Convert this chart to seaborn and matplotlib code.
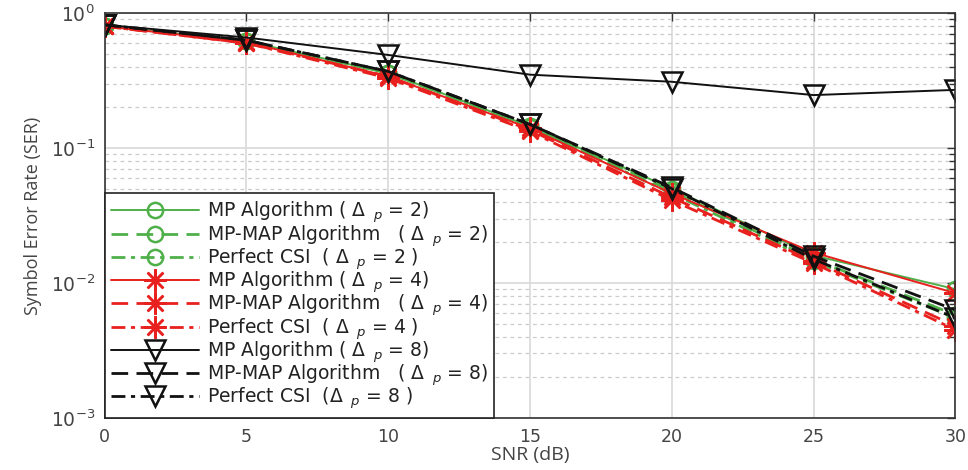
import numpy as np
import pandas as pd
import matplotlib
matplotlib.use("Agg")
import matplotlib.pyplot as plt
import seaborn as sns

snr = [0, 5, 10, 15, 20, 25, 30]
mp2 = [0.80, 0.62, 0.36, 0.145, 0.050, 0.0160, 0.0090]
mpmap2 = [0.80, 0.62, 0.36, 0.145, 0.048, 0.0150, 0.0058]
csi2 = [0.80, 0.62, 0.36, 0.143, 0.046, 0.0145, 0.0055]
mp4 = [0.80, 0.61, 0.34, 0.140, 0.046, 0.0168, 0.0084]
mpmap4 = [0.80, 0.60, 0.34, 0.136, 0.043, 0.0145, 0.0048]
csi4 = [0.80, 0.60, 0.33, 0.133, 0.041, 0.0140, 0.0045]
mp8 = [0.82, 0.66, 0.49, 0.35, 0.31, 0.247, 0.27]
mpmap8 = [0.82, 0.63, 0.37, 0.150, 0.051, 0.0158, 0.0063]
csi8 = [0.82, 0.63, 0.37, 0.150, 0.050, 0.0150, 0.0055]

labels = [
    r"MP Algorithm ( $\Delta_{\ \ p}$ = 2)",
    r"MP-MAP Algorithm   ( $\Delta_{\ \ p}$ = 2)",
    r"Perfect CSI  ( $\Delta_{\ \ p}$ = 2 )",
    r"MP Algorithm ( $\Delta_{\ \ p}$ = 4)",
    r"MP-MAP Algorithm   ( $\Delta_{\ \ p}$ = 4)",
    r"Perfect CSI  ( $\Delta_{\ \ p}$ = 4 )",
    r"MP Algorithm ( $\Delta_{\ \ p}$ = 8)",
    r"MP-MAP Algorithm   ( $\Delta_{\ \ p}$ = 8)",
    r"Perfect CSI  ($\Delta_{\ \ p}$ = 8 )",
]
series = [mp2, mpmap2, csi2, mp4, mpmap4, csi4, mp8, mpmap8, csi8]

green = "#4fb04a"
red = "#e8201e"
black = "#111111"
colors = [green] * 3 + [red] * 3 + [black] * 3
styles = ["-", (0, (6, 3)), (0, (5, 2, 1.5, 2))] * 3
markers = ["o"] * 3 + [(8, 2, 0)] * 3 + ["v"] * 3
msizes = [11] * 3 + [16] * 3 + [15] * 3
lwidths = [1.4, 2.0, 2.0, 1.4, 2.0, 2.0, 1.4, 2.0, 2.0]

sns.set_theme(style="white")
plt.rcParams["font.family"] = ["DejaVu Sans"]
plt.rcParams["mathtext.fontset"] = "dejavusans"

fig = plt.figure(figsize=(9.68, 4.70), dpi=100)
ax = fig.add_axes([0.108, 0.111, 0.879, 0.861])

handles = []
for y, lab, c, ls, m, ms, lw in zip(series, labels, colors, styles, markers, msizes, lwidths):
    df = pd.DataFrame({"SNR": snr, "SER": y})
    sns.lineplot(data=df, x="SNR", y="SER", ax=ax, color=c, linestyle=ls,
                 marker=m, markersize=ms, markerfacecolor="none",
                 markeredgecolor=c, markeredgewidth=1.8, linewidth=lw,
                 label=lab, legend=False)
    handles.append(ax.lines[-1])

ax.set_yscale("log")
ax.set_xlim(0, 30)
ax.set_ylim(1e-3, 1)
ax.set_xticks([0, 5, 10, 15, 20, 25, 30])

ax.grid(True, which="major", axis="both", color="#d9d9d9", linewidth=1.2, linestyle="-")
ax.grid(True, which="minor", axis="y", color="#cccccc", linewidth=0.9, linestyle=(0, (3, 3)))
ax.set_axisbelow(True)

for s in ax.spines.values():
    s.set_color("#333333")
    s.set_linewidth(1.2)
ax.tick_params(which="both", direction="in", top=True, right=True, colors="#333333",
               labelcolor="#444444")
ax.tick_params(axis="x", labelsize=12.5)
ax.tick_params(axis="y", labelsize=13.5)
ax.tick_params(which="major", length=6, width=1, pad=7)
ax.tick_params(which="minor", length=4, width=1)
ax.tick_params(axis="x", which="minor", bottom=False, top=False)

ax.set_xlabel("SNR (dB)", fontsize=14, color="#444444", labelpad=0,
              family=["Open Sans", "DejaVu Sans"])
ax.set_ylabel("Symbol Error Rate (SER)", fontsize=13, color="#444444",
              family=["Open Sans", "DejaVu Sans"], labelpad=6)

leg = ax.legend(handles=handles, labels=labels, loc="lower left",
                bbox_to_anchor=(0, 0), borderaxespad=0.0, fontsize=13.5,
                handlelength=4.7, handletextpad=0.4, labelspacing=-0.12,
                frameon=True, fancybox=False, framealpha=1, borderpad=0.35)
leg.get_frame().set_edgecolor("#222222")
leg.get_frame().set_linewidth(1.2)
for t in leg.get_texts():
    t.set_color("#222222")

fig.savefig("out.png", dpi=100)
